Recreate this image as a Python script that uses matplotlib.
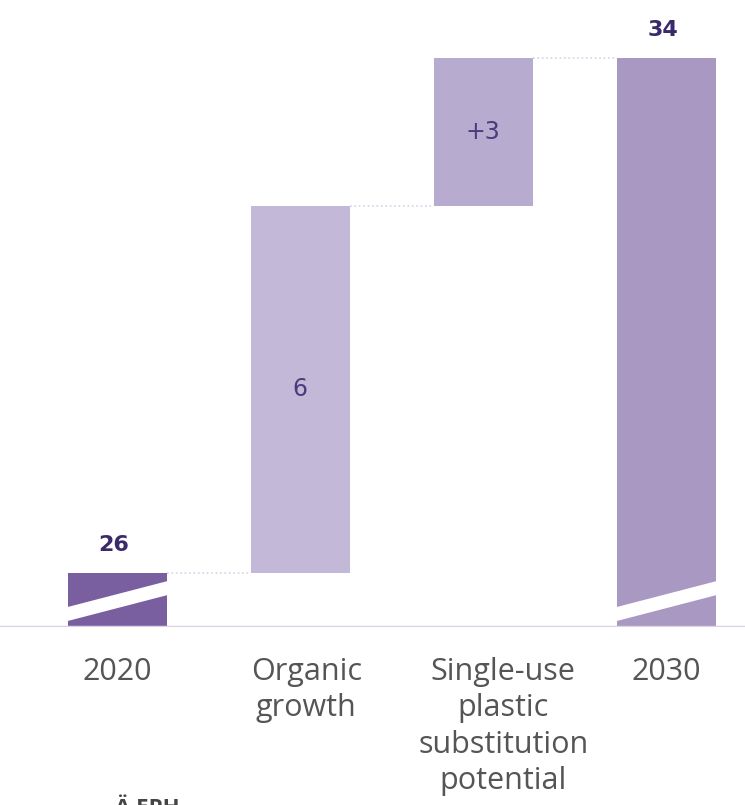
import matplotlib
matplotlib.use("Agg")
from matplotlib import pyplot as plt
from matplotlib.patches import Polygon

categories = ["2020", "Organic\ngrowth", "Single-use\nplastic\nsubstitution\npotential", "2030"]
values = [26.0, 5.7, 2.3, 34.0]
value_labels = ["26", "6", "+3", "34"]
is_total = [True, False, False, True]

BAR_COLORS = ["#7a5fa0", "#c3b8d8", "#b7abd0", "#a898c2"]
TEXT_DARK = "#3b2a6b"
TEXT_MID = "#4b3b7a"
GRID = "#d9d1e7"
LABEL_GRAY = "#555555"

W, H = 745, 805
Y_LO, Y_HI = 25.16, 34.90
AX_BOTTOM_PX = 627
BAR_W = 0.54

fig = plt.figure(figsize=(W / 100, H / 100), dpi=100)
ax = fig.add_axes([0, (H - AX_BOTTOM_PX) / H, 1, AX_BOTTOM_PX / H])
ax.set_xlim(-0.64, 3.43)
ax.set_ylim(Y_LO, Y_HI)
ax.axis("off")

# running totals for the waterfall
bottoms, tops = [], []
level = 0.0
for v, tot in zip(values, is_total):
    if tot:
        bottoms.append(0.0)
        tops.append(v)
        level = v
    else:
        bottoms.append(level)
        level += v
        tops.append(level)

xs = list(range(len(values)))
heights = [t - b for t, b in zip(tops, bottoms)]
ax.bar(xs, heights, bottom=bottoms, width=BAR_W, color=BAR_COLORS, zorder=2)

# baseline
ax.axhline(Y_LO, color=GRID, lw=2.5, zorder=3)

# dotted connectors between bars
for i in range(len(xs) - 1):
    ax.plot([xs[i] + BAR_W / 2, xs[i + 1] - BAR_W / 2], [tops[i], tops[i]],
            ls=":", color=GRID, lw=1.2, zorder=1)

# axis-break slashes on the total bars
px_per_unit = AX_BOTTOM_PX / (Y_HI - Y_LO)
px_per_x = W / (3.43 + 0.64)
for x, tot in zip(xs, is_total):
    if not tot:
        continue
    ext = 12 / px_per_x
    x0, x1 = x - BAR_W / 2 - ext, x + BAR_W / 2 + ext
    slope = 0.26
    span = (x1 - x0) * px_per_x
    lo0, lo1 = 6 - 12 * slope, 6 + (span - 12) * slope
    pts = [(x0, Y_LO + lo0 / px_per_unit), (x1, Y_LO + lo1 / px_per_unit),
           (x1, Y_LO + (lo1 + 14) / px_per_unit), (x0, Y_LO + (lo0 + 14) / px_per_unit)]
    ax.add_patch(Polygon(pts, closed=True, facecolor="white", edgecolor="none", zorder=4))

# value labels
for x, b, t, lab, tot in zip(xs, bottoms, tops, value_labels, is_total):
    if tot:
        ax.annotate(lab, (x, t), xytext=(-3, 18), textcoords="offset pixels",
                    ha="center", va="bottom", fontsize=16, fontweight="bold",
                    color=TEXT_DARK, family="DejaVu Sans")
    else:
        ax.text(x, (b + t) / 2, lab, ha="center", va="center", fontsize=17,
                color=TEXT_MID, family="DejaVu Sans", zorder=5)

# category labels
label_dx = [0, 6, 20, 0]
for x, cat, dx in zip(xs, categories, label_dx):
    ax.annotate(cat, (x, 0), xycoords=("data", "axes fraction"),
                xytext=(dx, -30), textcoords="offset pixels",
                ha="center", va="top", multialignment="center",
                fontsize=22, color=LABEL_GRAY, family="Open Sans",
                linespacing=1.28, annotation_clip=False)

# cropped heading at the very bottom
fig.text(115 / W, 1 - 798 / H, "Ä EPH", ha="left", va="top", fontsize=16,
         fontweight="bold", color="#444444", family="Open Sans")

fig.savefig("out.png", dpi=100)
